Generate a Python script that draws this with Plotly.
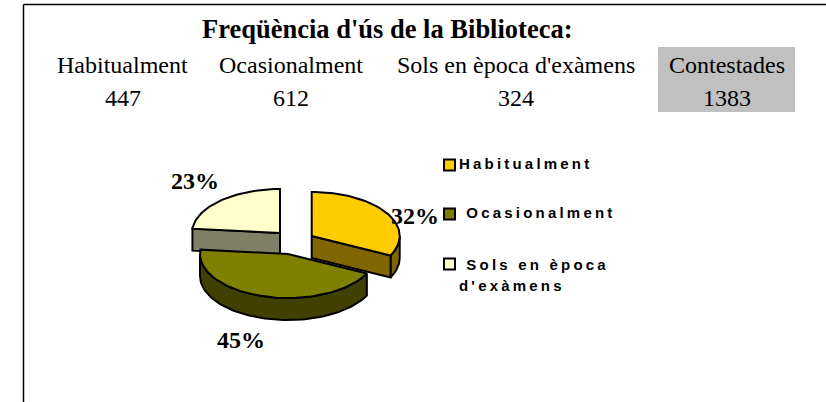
import math
import plotly.graph_objects as go

title = "Freqüència d'ús de la Biblioteca:"
categories = ["Habitualment", "Ocasionalment", "Sols en època d'exàmens"]
values = [447, 612, 324]
total_label = "Contestades"
total_value = 1383
pct_labels = ["32%", "45%", "23%"]
legend_labels = ["Habitualment", "\u00a0Ocasionalment", "\u00a0Sols en època<br>d'exàmens"]

top_colors = ["#FFCC00", "#808000", "#FFFFCC"]
wall_colors = ["#806600", "#404000", "#808066"]

W, H = 826, 402
RX, RY, DEPTH = 88, 44, 22
centers = [(311.7, 236), (288, 254), (280, 233)]

total = sum(values)
fig = go.Figure()

def rim(t0, t1, c, dy=0):
    n = max(2, int(abs(t1 - t0) / 2) + 1)
    pts = [t0 + (t1 - t0) * i / (n - 1) for i in range(n)]
    return ([c[0] + RX * math.sin(math.radians(t)) for t in pts],
            [c[1] - RY * math.cos(math.radians(t)) + dy for t in pts])

def poly(x, y, color):
    fig.add_trace(go.Scatter(x=x + x[:1], y=y + y[:1], mode="lines", fill="toself",
                             fillcolor=color, line=dict(color="black", width=2),
                             hoverinfo="skip", showlegend=False))

angles = []
a = 0.0
for v in values:
    angles.append((a, a + 360 * v / total))
    a += 360 * v / total

def wall(i, t0, t1):
    xa, ya = rim(t0, t1, centers[i])
    xb, yb = rim(t1, t0, centers[i], DEPTH)
    poly(xa + xb, ya + yb, wall_colors[i])

def face(i, t):
    c = centers[i]
    xr, yr = rim(t, t, c)
    poly([c[0], xr[0], xr[0], c[0]], [c[1], yr[0], yr[0] + DEPTH, c[1] + DEPTH], wall_colors[i])

def top(i):
    c = centers[i]
    xr, yr = rim(angles[i][0], angles[i][1], c)
    poly([c[0]] + xr, [c[1]] + yr, top_colors[i])

# third slice (back left): only its cut face shows below the top
face(2, angles[2][0])
top(2)
# first slice (right): near wall and cut face
wall(0, 90, angles[0][1])
face(0, angles[0][1])
top(0)
# second slice (front): near wall
wall(1, angles[1][0], 270)
top(1)

# legend swatches and labels
leg_y = [165, 214, 264]
leg_text_y = [165, 214, 275.5]
fig.add_trace(go.Scatter(x=[449.5] * 3, y=leg_y, mode="markers", hoverinfo="skip", showlegend=False,
                         marker=dict(symbol="square", size=11, color=top_colors,
                                     line=dict(color="black", width=2))))
fig.add_trace(go.Scatter(x=[459] * 3, y=leg_text_y, mode="text", text=legend_labels,
                         textposition="middle right", hoverinfo="skip", showlegend=False,
                         textfont=dict(family="Liberation Sans", size=15, color="black", weight="bold")))

# frame and the shaded total cell
fig.add_shape(type="rect", x0=658, x1=795, y0=47, y1=112, fillcolor="#C0C0C0", line_width=0, layer="below")
fig.add_shape(type="line", x0=23.5, x1=23.5, y0=4.5, y1=402, line=dict(color="black", width=1.5))
fig.add_shape(type="line", x0=23.5, x1=826, y0=4.5, y1=4.5, line=dict(color="black", width=1.5))

serif = "Liberation Serif"
def label(x, y, s, size=24, bold=False):
    fig.add_annotation(x=x, y=y, text=f"<b>{s}</b>" if bold else s, showarrow=False,
                       font=dict(family=serif, size=size, color="black"))

label(387.5, 29, title, 26.5, True)
for cx, cat, val in zip([122.5, 291, 516], categories, values):
    label(cx, 65, cat)
    label(cx, 98, val)
label(726.5, 65, total_label)
label(726.5, 98, total_value)
for (px, py), s in zip([(415, 216), (241, 340), (195, 181)], pct_labels):
    label(px, py, s, 24, True)

fig.update_layout(width=W, height=H, margin=dict(l=0, r=0, t=0, b=0), autosize=False,
                  paper_bgcolor="white", plot_bgcolor="white", showlegend=False,
                  xaxis=dict(range=[0, W], visible=False, fixedrange=True),
                  yaxis=dict(range=[H, 0], visible=False, fixedrange=True))

post = """
document.body.style.margin='0';
document.body.style.overflow='hidden';
document.querySelectorAll('.textpoint text').forEach(function(t){
  t.style.letterSpacing='3.2px';
  t.querySelectorAll('tspan.line').forEach(function(s,i){ if(i>0) s.setAttribute('dy','1.45em'); });
});
"""
fig.write_html("out.html", post_script=post, config={"displayModeBar": False})
